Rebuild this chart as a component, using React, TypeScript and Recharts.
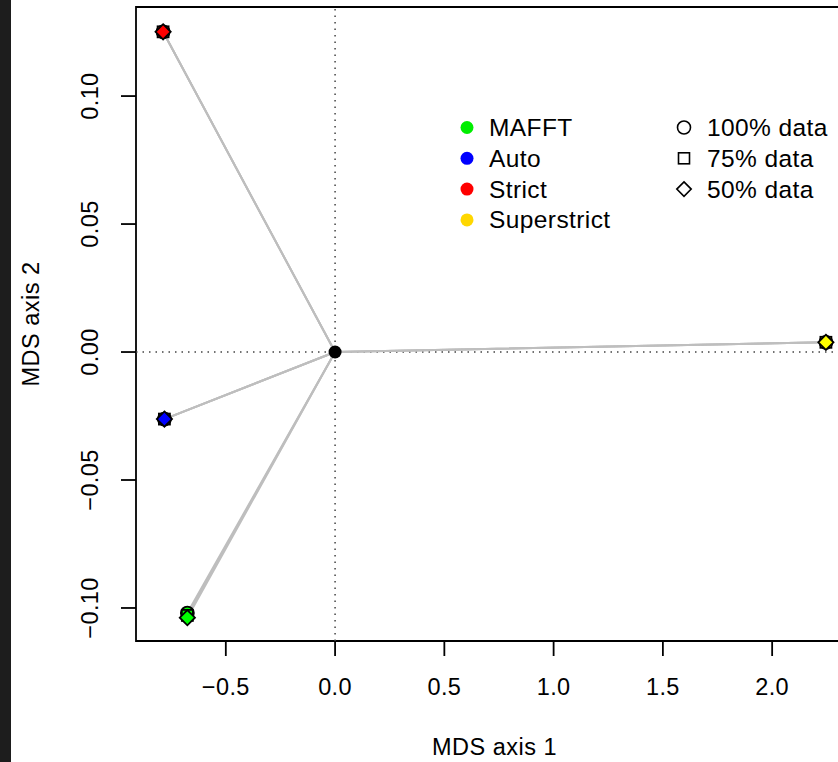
import React from "react"
import { ScatterChart, Scatter, XAxis, YAxis, ReferenceLine, ReferenceArea, Label } from "recharts"

const FONT = "'Liberation Sans', Arial, Helvetica, sans-serif"

// aligner groups and their colours
const groups = ["MAFFT", "Auto", "Strict", "Superstrict"]
const groupColors = ["#00ff00", "#0000ff", "#ff0000", "#ffff00"]
const legendColors = ["#00ee00", "#0000ff", "#ff0000", "#ffd700"]
const sampleLabels = ["100% data", "75% data", "50% data"]

// MDS coordinates per subsample
const x100 = [-0.676, -0.781, -0.787, 2.246]
const y100 = [-0.102, -0.0262, 0.1251, 0.0038]
const x75 = [-0.676, -0.781, -0.787, 2.246]
const y75 = [-0.1029, -0.0262, 0.1251, 0.0038]
const x50 = [-0.676, -0.781, -0.787, 2.246]
const y50 = [-0.1038, -0.0262, 0.1251, 0.0038]

const xTicks = [-0.5, 0, 0.5, 1, 1.5, 2]
const yTicks = [-0.1, -0.05, 0, 0.05, 0.1]
const xDomain: [number, number] = [-0.911, 2.37]
const yDomain: [number, number] = [-0.1129, 0.1348]

const sets = [
  { name: "100", xs: x100, ys: y100, kind: "circle" },
  { name: "75", xs: x75, ys: y75, kind: "square" },
  { name: "50", xs: x50, ys: y50, kind: "diamond" },
].map((s) => {
  const points = groups.map((g, i) => ({ x: s.xs[i], y: s.ys[i], fill: groupColors[i], group: g }))
  const spokes = points.flatMap((p) => [{ x: 0, y: 0 }, { x: p.x, y: p.y }])
  return { ...s, points, spokes }
})

const origin = [{ x: 0, y: 0 }]

const fmt = (v: number, d: number) => (v < 0 ? "\u2212" + Math.abs(v).toFixed(d) : v.toFixed(d))

function drawSymbol(kind: string, cx: number, cy: number, fill: string, sw = 1.6, big = false) {
  if (kind === "circle") return <circle cx={cx} cy={cy} r={6.5} fill={fill} stroke="#000" strokeWidth={sw} />
  if (kind === "square")
    return <rect x={cx - 5.5} y={cy - 5.5} width={11} height={11} fill={fill} stroke="#000" strokeWidth={sw} />
  const h = big ? 7.6 : 7.2
  return (
    <polygon
      points={`${cx},${cy - h} ${cx + h},${cy} ${cx},${cy + h} ${cx - h},${cy}`}
      fill={fill}
      stroke="#000"
      strokeWidth={sw}
    />
  )
}

const markerShape = (kind: string) => (props: any) => {
  const { cx, cy, payload } = props
  return drawSymbol(kind, cx, cy, payload.fill, 1.8, true)
}

const XTick = ({ x, y, payload }: any) => (
  <text x={x} y={y + 37} textAnchor="middle" fontSize={23.5} fontFamily={FONT} fill="#000" letterSpacing={0.4}>
    {fmt(payload.value, 1)}
  </text>
)

const YTick = ({ x, y, payload }: any) => (
  <text
    transform={`translate(${x - 21},${y}) rotate(-90)`}
    textAnchor="middle"
    fontSize={23.5}
    fontFamily={FONT}
    fill="#000"
    letterSpacing={0.4}
  >
    {fmt(payload.value, 2)}
  </text>
)

export default function App() {
  return (
    <div style={{ position: "absolute", left: 0, top: 0, width: 838, height: 762, background: "#fff", overflow: "hidden" }}>
      <div style={{ position: "absolute", left: 0, top: 0, width: 11, height: 762, background: "#1d1d1d" }} />
      <ScatterChart width={838} height={762} margin={{ top: 7, right: -15, bottom: 0, left: 0 }}>
        <XAxis
          type="number"
          dataKey="x"
          domain={xDomain}
          ticks={xTicks}
          allowDataOverflow
          height={121}
          axisLine={false}
          tickSize={15}
          tickLine={{ stroke: "#000", strokeWidth: 1.8 }}
          tick={<XTick />}
        >
          <Label
            content={(p: any) => {
              const vb = p.viewBox || { x: 136, y: 641, width: 717 }
              return (
                <text x={vb.x + vb.width / 2} y={vb.y + 114} textAnchor="middle" fontSize={23.5} fontFamily={FONT} letterSpacing={0.5}>
                  MDS axis 1
                </text>
              )
            }}
          />
        </XAxis>
        <YAxis
          type="number"
          dataKey="y"
          domain={yDomain}
          ticks={yTicks}
          allowDataOverflow
          width={136}
          axisLine={false}
          tickSize={15}
          tickLine={{ stroke: "#000", strokeWidth: 1.8 }}
          tick={<YTick />}
        >
          <Label
            content={(p: any) => {
              const vb = p.viewBox || { x: 0, y: 7, height: 634 }
              return (
                <text
                  transform={`translate(39,${vb.y + vb.height / 2}) rotate(-90)`}
                  textAnchor="middle"
                  fontSize={23.5}
                  fontFamily={FONT}
                  letterSpacing={0.5}
                >
                  MDS axis 2
                </text>
              )
            }}
          />
        </YAxis>
        <ReferenceLine x={0} stroke="#444" strokeWidth={1.5} strokeDasharray="1.5 5" />
        <ReferenceLine y={0} stroke="#444" strokeWidth={1.5} strokeDasharray="1.5 5" />
        {sets.map((s) => (
          <Scatter
            key={"spk" + s.name}
            data={s.spokes}
            line={{ stroke: "#bebebe", strokeWidth: 2 }}
            shape={() => <g />}
            isAnimationActive={false}
          />
        ))}
        <Scatter data={origin} fill="#000" shape={(p: any) => <circle cx={p.cx} cy={p.cy} r={6.5} fill="#000" />} isAnimationActive={false} />
        {sets.map((s) => (
          <Scatter key={"pt" + s.name} data={s.points} shape={markerShape(s.kind)} isAnimationActive={false} />
        ))}
        <ReferenceArea
          x1={xDomain[0]}
          x2={xDomain[1]}
          y1={yDomain[0]}
          y2={yDomain[1]}
          fill="none"
          fillOpacity={0}
          stroke="#000"
          strokeWidth={1.8}
        />
      </ScatterChart>
      <svg width={838} height={762} style={{ position: "absolute", left: 0, top: 0, pointerEvents: "none" }}>
        {groups.map((g, i) => (
          <g key={g}>
            <circle cx={467} cy={127.5 + i * 30.8} r={6.5} fill={legendColors[i]} />
            <text x={489} y={136 + i * 30.8} fontSize={24.5} fontFamily={FONT} letterSpacing={0.4}>
              {g}
            </text>
          </g>
        ))}
        {sampleLabels.map((l, i) => (
          <g key={l}>
            {drawSymbol(sets[i].kind, 684, 127.5 + i * 30.8, "none", 1.6)}
            <text x={707} y={136 + i * 30.8} fontSize={24.5} fontFamily={FONT} letterSpacing={0.4}>
              {l}
            </text>
          </g>
        ))}
      </svg>
    </div>
  )
}
